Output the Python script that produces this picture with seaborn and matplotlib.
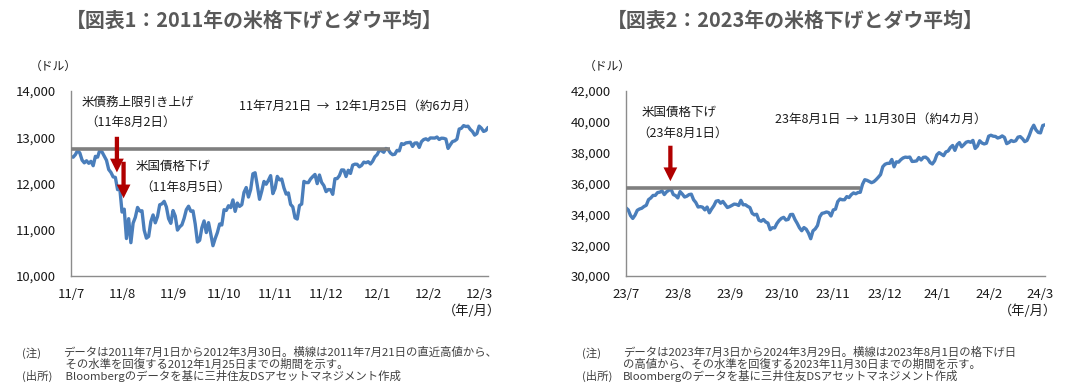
import numpy as np
import pandas as pd
import matplotlib
matplotlib.use("Agg")
import matplotlib.pyplot as plt
import seaborn as sns

# ---------------- data: Dow Jones daily closes ----------------
dates_2011 = (
    "7/1 7/5 7/6 7/7 7/8 7/11 7/12 7/13 7/14 7/15 7/18 7/19 7/20 7/21 7/22 7/25 7/26 7/27 7/28 7/29 "
    "8/1 8/2 8/3 8/4 8/5 8/8 8/9 8/10 8/11 8/12 8/15 8/16 8/17 8/18 8/19 8/22 8/23 8/24 8/25 8/26 8/29 8/30 8/31 "
    "9/1 9/2 9/6 9/7 9/8 9/9 9/12 9/13 9/14 9/15 9/16 9/19 9/20 9/21 9/22 9/23 9/26 9/27 9/28 9/29 9/30 "
    "10/3 10/4 10/5 10/6 10/7 10/10 10/11 10/12 10/13 10/14 10/17 10/18 10/19 10/20 10/21 10/24 10/25 10/26 10/27 10/28 10/31 "
    "11/1 11/2 11/3 11/4 11/7 11/8 11/9 11/10 11/11 11/14 11/15 11/16 11/17 11/18 11/21 11/22 11/23 11/25 11/28 11/29 11/30 "
    "12/1 12/2 12/5 12/6 12/7 12/8 12/9 12/12 12/13 12/14 12/15 12/16 12/19 12/20 12/21 12/22 12/23 12/27 12/28 12/29 12/30 "
    "1/3 1/4 1/5 1/6 1/9 1/10 1/11 1/12 1/13 1/17 1/18 1/19 1/20 1/23 1/24 1/25 1/26 1/27 1/30 1/31 "
    "2/1 2/2 2/3 2/6 2/7 2/8 2/9 2/10 2/13 2/14 2/15 2/16 2/17 2/21 2/22 2/23 2/24 2/27 2/28 2/29 "
    "3/1 3/2 3/5 3/6 3/7 3/8 3/9 3/12 3/13 3/14 3/15 3/16 3/19 3/20 3/21 3/22 3/23 3/26 3/27 3/28 3/29 3/30"
).split()
dow_2011 = [
    12582, 12569, 12626, 12719, 12657, 12505, 12447, 12491, 12437, 12479, 12385, 12587, 12571, 12724, 12681, 12592, 12501, 12302, 12240, 12143,
    12132, 11867, 11896, 11383, 11445, 10810, 11240, 10720, 11143, 11269, 11482, 11406, 11410, 10990, 10818, 10855, 11176, 11320, 11150, 11285, 11540, 11560, 11614,
    11494, 11240, 11139, 11415, 11295, 10993, 11062, 11106, 11247, 11434, 11509, 11401, 11408, 11125, 10734, 10771, 11044, 11191, 10939, 11154, 10913,
    10655, 10809, 10940, 11124, 11103, 11433, 11417, 11519, 11479, 11645, 11397, 11577, 11505, 11541, 11809, 11913, 11707, 11869, 12209, 12232, 11955,
    11658, 11836, 12045, 11984, 12069, 12170, 11781, 11894, 12153, 12079, 12096, 11906, 11771, 11796, 11548, 11494, 11258, 11231, 11523, 11556, 12046,
    12020, 12019, 12098, 12150, 12196, 11997, 12184, 12022, 11955, 11824, 11869, 11866, 11766, 12103, 12107, 12169, 12294, 12291, 12151, 12287, 12218,
    12397, 12418, 12415, 12360, 12392, 12462, 12449, 12471, 12422, 12482, 12578, 12624, 12720, 12708, 12675, 12758, 12735, 12660, 12623, 12633,
    12716, 12705, 12862, 12845, 12878, 12884, 12891, 12801, 12874, 12878, 12781, 12904, 12950, 12966, 12938, 12985, 12983, 12982, 13005, 12952,
    12980, 12977, 12962, 12759, 12837, 12907, 12922, 12959, 13177, 13194, 13252, 13232, 13239, 13170, 13124, 13046, 13080, 13241, 13197, 13126, 13145, 13212,
]

dates_2023 = (
    "7/3 7/5 7/6 7/7 7/10 7/11 7/12 7/13 7/14 7/17 7/18 7/19 7/20 7/21 7/24 7/25 7/26 7/27 7/28 7/31 "
    "8/1 8/2 8/3 8/4 8/7 8/8 8/9 8/10 8/11 8/14 8/15 8/16 8/17 8/18 8/21 8/22 8/23 8/24 8/25 8/28 8/29 8/30 8/31 "
    "9/1 9/5 9/6 9/7 9/8 9/11 9/12 9/13 9/14 9/15 9/18 9/19 9/20 9/21 9/22 9/25 9/26 9/27 9/28 9/29 "
    "10/2 10/3 10/4 10/5 10/6 10/9 10/10 10/11 10/12 10/13 10/16 10/17 10/18 10/19 10/20 10/23 10/24 10/25 10/26 10/27 10/30 10/31 "
    "11/1 11/2 11/3 11/6 11/7 11/8 11/9 11/10 11/13 11/14 11/15 11/16 11/17 11/20 11/21 11/22 11/24 11/27 11/28 11/29 11/30 "
    "12/1 12/4 12/5 12/6 12/7 12/8 12/11 12/12 12/13 12/14 12/15 12/18 12/19 12/20 12/21 12/22 12/26 12/27 12/28 12/29 "
    "1/2 1/3 1/4 1/5 1/8 1/9 1/10 1/11 1/12 1/16 1/17 1/18 1/19 1/22 1/23 1/24 1/25 1/26 1/29 1/30 1/31 "
    "2/1 2/2 2/5 2/6 2/7 2/8 2/9 2/12 2/13 2/14 2/15 2/16 2/20 2/21 2/22 2/23 2/26 2/27 2/28 2/29 "
    "3/1 3/4 3/5 3/6 3/7 3/8 3/11 3/12 3/13 3/14 3/15 3/18 3/19 3/20 3/21 3/22 3/25 3/26 3/27 3/28"
).split()
dow_2023 = [
    34418, 34288, 33922, 33734, 33944, 34262, 34347, 34395, 34509, 34585, 34952, 35061, 35225, 35228, 35411, 35438, 35520, 35283, 35459, 35560,
    35630, 35282, 35216, 35066, 35474, 35314, 35123, 35176, 35281, 35308, 34946, 34766, 34475, 34501, 34464, 34288, 34473, 34099, 34347, 34560, 34853, 34891, 34722,
    34838, 34642, 34443, 34501, 34577, 34664, 34646, 34576, 34907, 34618, 34625, 34518, 34441, 34070, 33964, 34007, 33619, 33551, 33667, 33508,
    33433, 33003, 33130, 33120, 33408, 33605, 33740, 33805, 33632, 33671, 33985, 33998, 33666, 33415, 33127, 32937, 33142, 33036, 32785, 32418, 32929, 33053,
    33275, 33840, 34061, 34096, 34153, 34112, 33892, 34283, 34337, 34828, 34992, 34945, 34947, 35151, 35088, 35273, 35390, 35334, 35417, 35430, 35951,
    36246, 36204, 36125, 36054, 36117, 36248, 36405, 36578, 37090, 37248, 37306, 37307, 37558, 37083, 37405, 37386, 37545, 37657, 37711, 37690,
    37715, 37431, 37440, 37466, 37683, 37525, 37696, 37711, 37593, 37361, 37267, 37469, 37863, 38002, 37906, 37806, 38050, 38109, 38333, 38467, 38150,
    38519, 38654, 38380, 38521, 38677, 38726, 38671, 38797, 38273, 38424, 38773, 38628, 38564, 38612, 39069, 39131, 39069, 39053, 38949, 38996,
    39087, 38990, 38585, 38661, 38791, 38723, 38770, 39005, 39043, 38906, 38715, 38790, 39111, 39512, 39781, 39476, 39313, 39282, 39760, 39807,
]

# reference levels (recent highs) and recovery dates
level_2011 = 12750
recover_2011 = "1/25"
level_2023 = 35700
recover_2023 = "11/30"

yticks_2011 = [10000, 11000, 12000, 13000, 14000]
yticks_2023 = [30000, 32000, 34000, 36000, 38000, 40000, 42000]
tick_every = 23

titles = ["【図表1：2011年の米格下げとダウ平均】", "【図表2：2023年の米格下げとダウ平均】"]

notes_2011 = ["データは2011年7月1日から2012年3月30日。横線は2011年7月21日の直近高値から、",
              " その水準を回復する2012年1月25日までの期間を示す。",
              " Bloombergのデータを基に三井住友DSアセットマネジメント作成"]
notes_2023 = ["データは2023年7月3日から2024年3月29日。横線は2023年8月1日の格下げ日",
              "の高値から、その水準を回復する2023年11月30日までの期間を示す。",
              "Bloombergのデータを基に三井住友DSアセットマネジメント作成"]

# ---------------- style ----------------
sns.set_theme(style="white")
plt.rcParams["font.family"] = ["Noto Sans CJK JP", "DejaVu Sans"]

W, H = 1084, 391
LINE = "#4A7EBB"
AXC = "#8C8C8C"
HL = "#7F7F7F"
ARROW = "#B00000"
TXT = "#1A1A1A"


def fx(x):
    return x / W


def fy(y):
    return 1 - y / H


def build(dates, vals, y0):
    mon = [int(d.split("/")[0]) for d in dates]
    yrs = [y0 if m >= 7 else y0 + 1 for m in mon]
    df = pd.DataFrame({"date": [f"{y}/{d}" for y, d in zip(yrs, dates)], "value": vals})
    df["idx"] = np.arange(len(df))
    df["yy"] = [y % 100 for y in yrs]
    df["m"] = mon
    return df


df1 = build(dates_2011, dow_2011, 2011)
df2 = build(dates_2023, dow_2023, 2023)

fig = plt.figure(figsize=(W / 100, H / 100), dpi=100)
ax1 = fig.add_axes([fx(71), fy(276), fx(417), 185 / H])
ax2 = fig.add_axes([fx(626), fy(276), fx(419), 185 / H])


def style_axis(ax, df, yticks):
    sns.lineplot(data=df, x="idx", y="value", ax=ax, color=LINE, lw=2.4, legend=False)
    ax.set_xlim(0, len(df) - 1)
    ax.set_ylim(yticks[0], yticks[-1])
    ax.set_yticks(yticks)
    ax.set_yticklabels([f"{v:,}" for v in yticks])
    pos = list(range(0, len(df), tick_every))
    ax.set_xticks(pos)
    ax.set_xticklabels([f"{df.yy[i]}/{df.m[i]}" for i in pos])
    ax.set_xlabel("")
    ax.set_ylabel("")
    for s in ["top", "right"]:
        ax.spines[s].set_visible(False)
    for s in ["left", "bottom"]:
        ax.spines[s].set_color(AXC)
        ax.spines[s].set_linewidth(1.0)
    ax.tick_params(axis="both", direction="in", length=4, width=1, color=AXC,
                   labelsize=9.5, labelcolor=TXT)
    ax.tick_params(axis="y", pad=11)
    ax.tick_params(axis="x", pad=9)
    ax.grid(False)
    ax.set_facecolor("none")


style_axis(ax1, df1, yticks_2011)
style_axis(ax2, df2, yticks_2023)

# horizontal "recent high" lines
r1 = int(df1.index[df1.date == "2012/" + recover_2011][0])
r2 = int(df2.index[df2.date == "2023/" + recover_2023][0])
ax1.hlines(level_2011, 0, r1 + 2, color=HL, lw=2.6, zorder=3)
ax2.hlines(level_2023, 0, r2 - 1, color=HL, lw=2.6, zorder=3)

# arrows
arrow_kw = dict(arrowstyle="simple,head_length=0.9,head_width=0.9,tail_width=0.28",
                color=ARROW, lw=0, mutation_scale=11, shrinkA=0, shrinkB=0)
i_0802 = int(df1.index[df1.date == "2011/8/2"][0])
i_0805 = int(df1.index[df1.date == "2011/8/5"][0])
i_0801 = int(df2.index[df2.date == "2023/8/1"][0])
ax1.annotate("", xy=(i_0802 - 0.3, 12240), xytext=(i_0802 - 0.3, 13010), arrowprops=arrow_kw, zorder=5)
ax1.annotate("", xy=(i_0805 - 0.3, 11680), xytext=(i_0805 - 0.3, 12470), arrowprops=arrow_kw, zorder=5)
ax2.annotate("", xy=(i_0801 - 0.3, 36150), xytext=(i_0801 - 0.3, 38450), arrowprops=arrow_kw, zorder=5)

# titles
fig.text(fx(254), fy(20), titles[0], ha="center", va="center", fontsize=14.3, fontweight="bold", color="#595959")
fig.text(fx(795), fy(20), titles[1], ha="center", va="center", fontsize=14.3, fontweight="bold", color="#595959")

# unit labels
fig.text(fx(30), fy(66), "（ドル）", ha="left", va="center", fontsize=8.5, color=TXT)
fig.text(fx(584), fy(66), "（ドル）", ha="left", va="center", fontsize=8.5, color=TXT)
fig.text(fx(472), fy(311), "（年/月）", ha="center", va="center", fontsize=9.5, color=TXT)
fig.text(fx(1028), fy(311), "（年/月）", ha="center", va="center", fontsize=9.5, color=TXT)

# in-chart annotations
ann = dict(fontsize=9.0, color=TXT, va="center")
fig.text(fx(82), fy(102), "米債務上限引き上げ", ha="left", **ann)
fig.text(fx(85), fy(122), "（11年8月2日）", ha="left", **ann)
fig.text(fx(239), fy(106), "11年7月21日  →  12年1月25日（約6カ月）", ha="left", **ann)
fig.text(fx(136), fy(166), "米国債格下げ", ha="left", **ann)
fig.text(fx(140), fy(187), "（11年8月5日）", ha="left", **ann)
fig.text(fx(642), fy(112), "米国債格下げ", ha="left", **ann)
fig.text(fx(637), fy(133), "（23年8月1日）", ha="left", **ann)
fig.text(fx(775), fy(119), "23年8月1日  →  11月30日（約4カ月）", ha="left", **ann)

# footnotes (one multi-line text per column)
fn = dict(fontsize=8.2, color="#404040", va="center", ha="left", linespacing=1.02)
fig.text(fx(22), fy(364.5), "(注)\n\n(出所)", **fn)
fig.text(fx(63), fy(364.5), "\n".join(notes_2011), **fn)
fig.text(fx(582), fy(364.5), "(注)\n\n(出所)", **fn)
fig.text(fx(623), fy(364.5), "\n".join(notes_2023), **fn)

fig.savefig("out.png", dpi=100, facecolor="white")
